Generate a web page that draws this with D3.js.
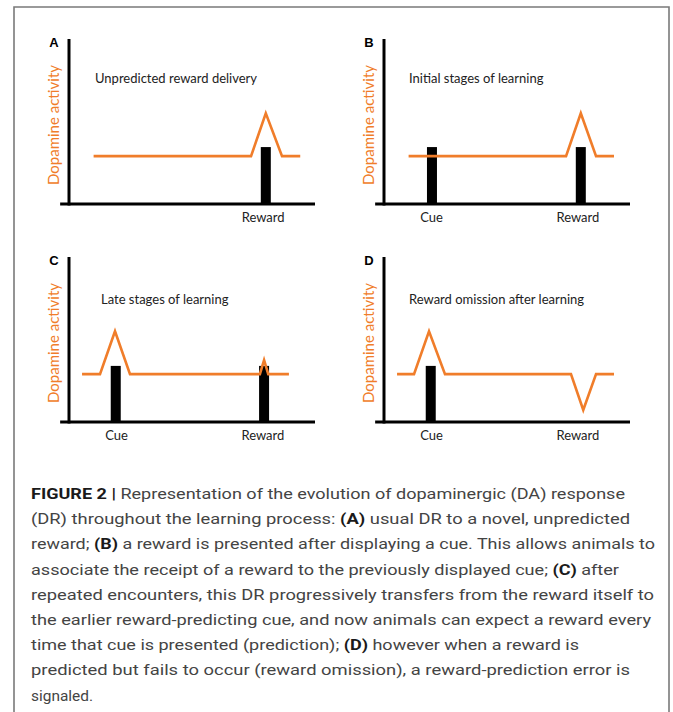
<!DOCTYPE html>
<html>
<head>
<meta charset="utf-8">
<script src="https://cdn.jsdelivr.net/npm/d3@7"></script>
<style>
  html, body { margin: 0; padding: 0; background: #fff; }
  svg { display: block; }
</style>
</head>
<body>
<div id="chart"></div>
<script>
// ---------------- DATA ----------------
const panelLetters = ["A", "B", "C", "D"];
const panelTitles = [
  "Unpredicted reward delivery",
  "Initial stages of learning",
  "Late stages of learning",
  "Reward omission after learning"
];
const yAxisLabel = "Dopamine activity";

// dopamine activity traces (time units 0-100, activity units 0-100)
const traceA_t = [10, 74, 80, 86.6, 94];
const traceA_v = [29, 29, 55, 29, 29];
const traceB_t = [10, 74, 80, 86.2, 93.5];
const traceB_v = [29, 29, 55, 29, 29];
const traceC_t = [5.3, 12.6, 18.7, 24.8, 77.6, 79.3, 81, 89.4];
const traceC_v = [29, 29, 55, 29, 29, 37.5, 29, 29];
const traceD_t = [5.3, 12.2, 18.3, 24.8, 76, 81, 86.2, 93.5];
const traceD_v = [29, 29, 55, 29, 29, 7.3, 29, 29];

// event bars (cue / reward)
const barsA_t = [80];
const barsA_v = [34.5];
const barsB_t = [19.5, 80];
const barsB_v = [34.5, 34.5];
const barsC_t = [19, 79.3];
const barsC_v = [34, 34];
const barsD_t = [19];
const barsD_v = [34];

// x-axis event labels
const labelsA = ["Reward"];
const labelsA_t = [78.7];
const labelsBCD = ["Cue", "Reward"];
const labelsBCD_t = [19.1, 78.6];

// caption lines: [text, bold]
const captionLines = [
  [["FIGURE 2 |", true], [" Representation of the evolution of dopaminergic (DA) response", false]],
  [["(DR) throughout the learning process: ", false], ["(A)", true], [" usual DR to a novel, unpredicted", false]],
  [["reward; ", false], ["(B)", true], [" a reward is presented after displaying a cue. This allows animals to", false]],
  [["associate the receipt of a reward to the previously displayed cue; ", false], ["(C)", true], [" after", false]],
  [["repeated encounters, this DR progressively transfers from the reward itself to", false]],
  [["the earlier reward-predicting cue, and now animals can expect a reward every", false]],
  [["time that cue is presented (prediction); ", false], ["(D)", true], [" however when a reward is", false]],
  [["predicted but fails to occur (reward omission), a reward-prediction error is", false]],
  [["signaled.", false]]
];
const captionLineEnds = [625, 630, 655, 619, 654, 651, 579, 630, 93];

// ---------------- LAYOUT ----------------
const W = 673, H = 712;
const ORANGE = "#F07D2A";
const chartFont = "Lato, 'Open Sans', sans-serif";

const layout = [
  { ax: 69,  top: 39,  bot: 204, titleDx: 26, titleY: 83 },
  { ax: 384, top: 39,  bot: 204, titleDx: 25, titleY: 83 },
  { ax: 69,  top: 257, bot: 422, titleDx: 32, titleY: 304 },
  { ax: 384, top: 257, bot: 422, titleDx: 25, titleY: 304 }
];
const traces = [
  [traceA_t, traceA_v], [traceB_t, traceB_v], [traceC_t, traceC_v], [traceD_t, traceD_v]
];
const bars = [
  [barsA_t, barsA_v], [barsB_t, barsB_v], [barsC_t, barsC_v], [barsD_t, barsD_v]
];
const labels = [
  [labelsA, labelsA_t], [labelsBCD, labelsBCD_t], [labelsBCD, labelsBCD_t], [labelsBCD, labelsBCD_t]
];

const svg = d3.select("#chart").append("svg")
  .attr("width", W).attr("height", H)
  .attr("viewBox", `0 0 ${W} ${H}`);

svg.append("rect").attr("width", W).attr("height", H).attr("fill", "#fff");

// outer frame (open at bottom, continues beyond the image)
svg.append("path")
  .attr("d", `M14,${H + 5} L14,7 L669,7 L669,${H + 5}`)
  .attr("fill", "none")
  .attr("stroke", "#7a7a7a")
  .attr("stroke-width", 1.6);

layout.forEach((L, i) => {
  const xs = d3.scaleLinear().domain([0, 100]).range([L.ax, L.ax + 246]);
  const ys = d3.scaleLinear().domain([0, 100]).range([L.bot, L.top]);
  const g = svg.append("g");

  // panel letter
  g.append("text")
    .attr("x", L.ax - 15).attr("y", L.top + 8)
    .attr("text-anchor", "middle")
    .attr("font-family", "'Liberation Sans', Arial, sans-serif")
    .attr("font-weight", "bold")
    .attr("font-size", 13)
    .attr("fill", "#000")
    .text(panelLetters[i]);

  // y label
  g.append("text")
    .attr("transform", `translate(${L.ax - 10},${(L.bot - 79)}) rotate(-90)`)
    .attr("text-anchor", "middle")
    .attr("font-family", chartFont)
    .attr("font-size", 15)
    .attr("fill", ORANGE)
    .text(yAxisLabel);

  // title
  g.append("text")
    .attr("x", L.ax + L.titleDx).attr("y", L.titleY)
    .attr("font-family", chartFont)
    .attr("font-size", 13)
    .attr("fill", "#222")
    .text(panelTitles[i]);

  // bars
  const [bt, bv] = bars[i];
  g.selectAll("rect.bar").data(bt.map((t, k) => ({ t, v: bv[k] })))
    .enter().append("rect")
    .attr("class", "bar")
    .attr("x", d => xs(d.t) - 5)
    .attr("width", 10)
    .attr("y", d => ys(d.v))
    .attr("height", d => L.bot - ys(d.v))
    .attr("fill", "#000");

  // axes lines
  g.append("line")
    .attr("x1", xs(0)).attr("x2", xs(0))
    .attr("y1", ys(100)).attr("y2", ys(0) + 1.5)
    .attr("stroke", "#000").attr("stroke-width", 3);
  g.append("line")
    .attr("x1", xs(-3.6)).attr("x2", xs(100))
    .attr("y1", ys(0)).attr("y2", ys(0))
    .attr("stroke", "#000").attr("stroke-width", 3);

  // trace
  const [tt, tv] = traces[i];
  const line = d3.line().x(d => xs(d[0])).y(d => ys(d[1]));
  g.append("path")
    .datum(tt.map((t, k) => [t, tv[k]]))
    .attr("d", line)
    .attr("fill", "none")
    .attr("stroke", ORANGE)
    .attr("stroke-width", 2.6)
    .attr("stroke-linejoin", "miter");

  // event labels via axis
  const [lab, labT] = labels[i];
  const ax = d3.axisBottom(xs).tickValues(labT)
    .tickFormat((d, k) => lab[k]).tickSize(0).tickPadding(9);
  const axg = g.append("g").attr("transform", `translate(0,${L.bot})`).call(ax);
  axg.select(".domain").remove();
  axg.selectAll("text")
    .attr("font-family", chartFont)
    .attr("font-size", 13)
    .attr("fill", "#222");
});

// caption
const capX = 31, capY0 = 499, capStep = 25.2;
const cap = svg.append("g")
  .attr("font-family", "Roboto, 'Liberation Sans', sans-serif")
  .attr("font-size", 15.5)
  .attr("fill", "#444");
captionLines.forEach((segs, i) => {
  const t = cap.append("text")
    .attr("x", capX).attr("y", capY0 + i * capStep)
    .attr("xml:space", "preserve")
    .attr("textLength", captionLineEnds[i] - capX)
    .attr("lengthAdjust", "spacingAndGlyphs");
  segs.forEach(([s, b]) => {
    t.append("tspan")
      .attr("font-weight", b ? "bold" : "normal")
      .attr("fill", b ? "#1a1a1a" : "#444")
      .text(s);
  });
});
</script>
</body>
</html>
